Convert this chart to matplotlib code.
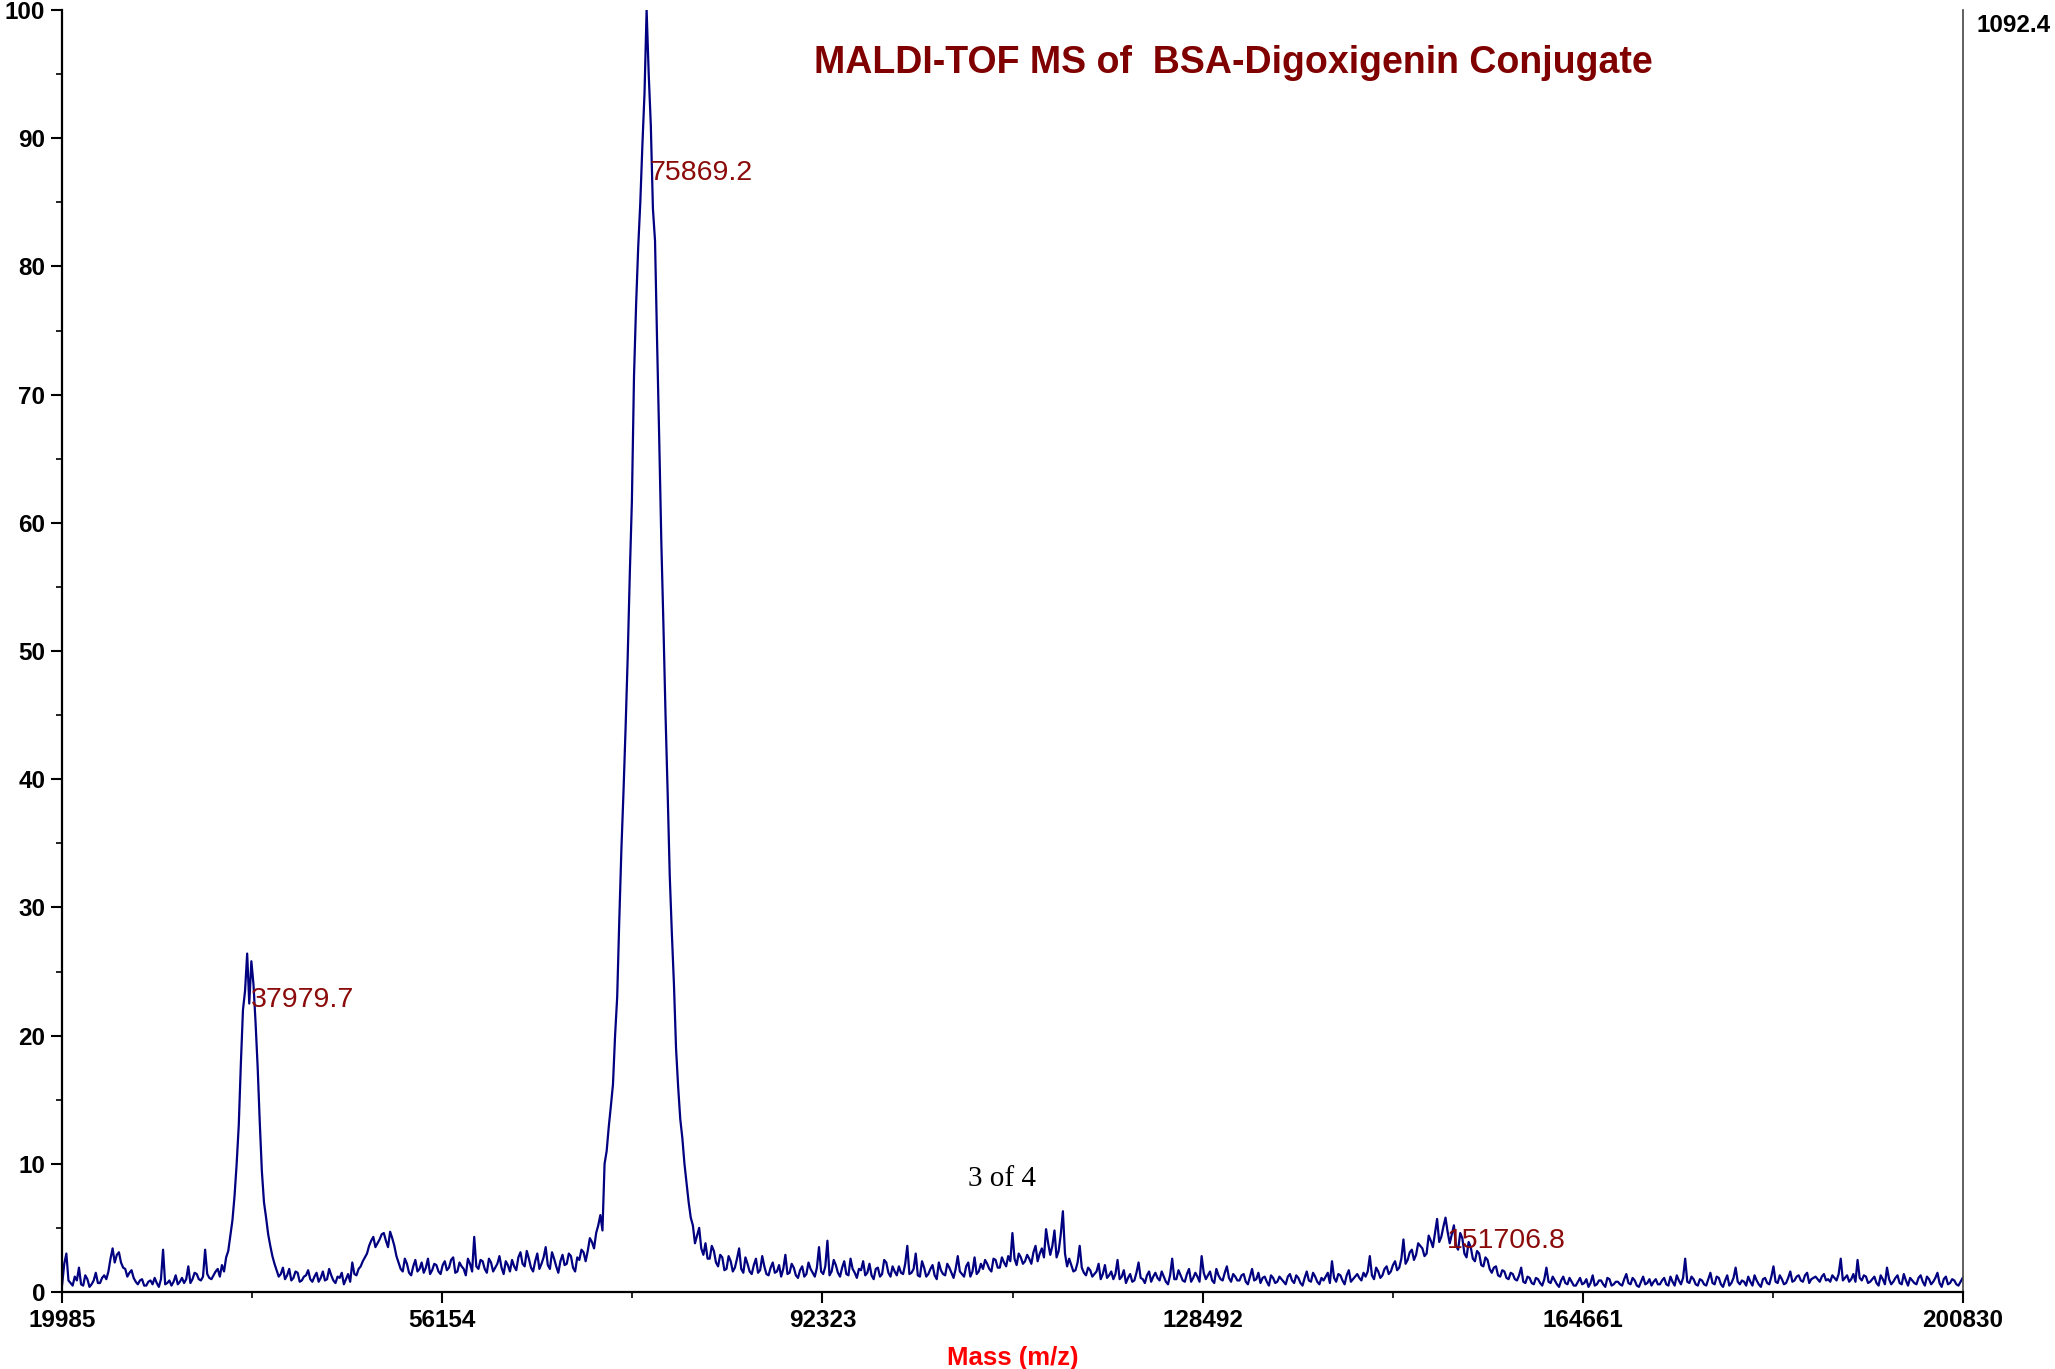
import numpy as np
import matplotlib
matplotlib.use("Agg")
import matplotlib.pyplot as plt
from matplotlib.ticker import FixedLocator, MultipleLocator

plt.rcParams['font.family'] = ['Liberation Sans', 'DejaVu Sans']

# spectrum: relative intensity every 400 Da from 20000 Da
intensity = [
    0.6, 3.0, 0.7, 1.2, 1.9, 0.5, 1.0, 0.6, 1.5, 0.7,        # 20000
    1.3, 1.6, 3.4, 2.9, 2.3, 1.8, 1.5, 1.1, 0.6, 1.0,        # 24000
    0.5, 0.9, 1.1, 0.4, 3.3, 0.7, 0.5, 1.3, 0.8, 0.7,        # 28000
    2.0, 1.0, 1.4, 0.9, 3.3, 1.1, 1.3, 1.8, 2.1, 2.7,        # 32000
    4.4, 7.5, 13.0, 22.0, 26.4, 25.8, 21.0, 13.2, 7.0, 4.5,  # 36000
    2.8, 1.7, 1.4, 1.0, 1.8, 1.1, 1.5, 0.9, 1.3, 1.0,        # 40000
    1.2, 0.8, 1.6, 1.0, 1.3, 0.7, 1.1, 0.6, 1.4, 2.3,        # 44000
    1.3, 2.0, 2.7, 3.6, 4.3, 3.8, 4.5, 4.0, 4.7, 3.6,        # 48000
    2.3, 1.6, 2.2, 1.3, 2.5, 1.8, 1.5, 2.6, 1.7, 2.1,        # 52000
    1.4, 2.4, 1.9, 2.7, 1.6, 2.0, 1.3, 2.2, 4.3, 1.8,        # 56000
    2.4, 1.5, 2.3, 1.9, 2.8, 1.4, 2.1, 2.5, 1.7, 3.1,        # 60000
    2.0, 2.6, 1.6, 3.0, 2.2, 3.5, 1.8, 2.6, 1.5, 2.9,        # 64000
    2.2, 2.8, 1.6, 2.5, 3.1, 3.2, 3.9, 4.6, 6.0, 10.0,       # 68000
    12.9, 16.2, 23.0, 34.5, 44.0, 56.0, 71.4, 81.5, 89.5, 100.0,  # 72000
    91.0, 82.0, 66.5, 52.0, 39.0, 28.0, 19.0, 13.5, 10.0, 7.0,    # 76000
    5.2, 4.4, 3.4, 3.8, 2.6, 3.2, 2.0, 2.7, 1.8, 2.4,        # 80000
    1.9, 3.4, 1.5, 2.2, 1.4, 2.6, 1.7, 2.0, 1.3, 2.3,        # 84000
    1.6, 1.2, 2.9, 1.5, 1.9, 1.1, 2.0, 1.4, 1.8, 1.2,        # 88000
    3.5, 1.4, 4.0, 1.6, 2.1, 1.2, 2.4, 1.3, 1.8, 1.1,        # 92000
    1.7, 1.3, 2.2, 1.0, 1.9, 1.4, 2.3, 1.2, 1.6, 2.0,        # 96000
    1.4, 3.6, 1.5, 3.0, 1.2, 1.9, 1.4, 2.1, 1.0, 1.7,        # 100000
    1.3, 1.9, 1.1, 2.8, 1.4, 2.0, 1.2, 2.7, 1.6, 1.8,        # 104000
    2.2, 1.6, 2.5, 1.9, 2.3, 2.8, 4.6, 2.1, 2.7, 2.4,        # 108000
    2.6, 3.1, 2.4, 3.4, 4.9, 2.9, 4.8, 3.2, 6.3, 2.0,        # 112000
    2.1, 1.7, 3.6, 1.5, 1.9, 1.2, 1.6, 1.0, 2.1, 1.3,        # 116000
    1.0, 2.5, 1.2, 0.7, 1.4, 0.9, 2.3, 1.0, 1.3, 0.8,        # 120000
    1.5, 0.9, 1.2, 0.6, 2.6, 1.0, 1.3, 0.8, 1.8, 1.1,        # 124000
    1.2, 2.8, 1.0, 1.6, 0.7, 1.3, 0.9, 2.0, 0.8, 1.2,        # 128000
    0.9, 1.4, 0.6, 1.8, 1.0, 0.7, 1.2, 0.5, 1.1, 0.8,        # 132000
    1.0, 0.6, 1.4, 0.7, 1.1, 0.5, 1.6, 0.8, 1.2, 0.6,        # 136000
    0.9, 1.5, 2.4, 0.8, 1.3, 0.6, 1.7, 1.0, 1.4, 0.9,        # 140000
    1.2, 2.8, 1.0, 1.6, 1.3, 2.0, 1.6, 2.4, 1.9, 4.1,        # 144000
    2.5, 3.3, 2.9, 3.6, 2.8, 4.4, 3.5, 5.7, 4.3, 5.8,        # 148000
    3.8, 5.2, 3.3, 4.2, 2.7, 3.5, 2.4, 3.0, 2.0, 2.5,        # 152000
    1.5, 2.0, 1.2, 1.6, 1.0, 1.4, 0.9, 1.9, 0.7, 1.1,        # 156000
    0.6, 1.0, 0.5, 1.9, 0.7, 0.9, 0.4, 1.2, 0.6, 0.8,        # 160000
    0.5, 1.1, 0.7, 0.4, 1.3, 0.6, 0.9, 0.4, 1.0, 0.6,        # 164000
    0.8, 0.5, 1.4, 0.6, 0.9, 0.4, 1.2, 0.7, 0.5, 1.0,        # 168000
    0.6, 1.1, 0.5, 0.8, 1.3, 0.6, 2.6, 0.7, 1.0, 0.5,        # 172000
    0.9, 0.5, 1.5, 0.6, 1.1, 0.4, 1.3, 0.7, 1.9, 0.6,        # 176000
    0.8, 1.2, 0.5, 0.9, 0.4, 1.1, 0.6, 2.0, 0.7, 1.0,        # 180000
    0.7, 1.6, 0.9, 1.3, 0.8, 1.5, 1.0, 1.2, 0.8, 1.4,        # 184000
    1.0, 1.3, 0.9, 2.6, 1.1, 0.8, 1.4, 2.5, 0.9, 1.2,        # 188000
    0.8, 1.2, 0.5, 1.0, 1.9, 0.6, 1.1, 0.7, 1.4, 0.5,        # 192000
    0.9, 0.6, 1.3, 0.5, 1.0, 0.8, 1.5, 0.4, 1.2, 0.7,        # 196000
    0.9, 0.5, 1.1,                                           # 200000
]

# readings half-way between, every 400 Da from 20200 Da
intensity_mid = [
    2.2, 0.9, 0.5, 0.9, 0.6, 1.3, 0.4, 0.9, 0.7, 1.1,        # 20200
    1.0, 2.6, 2.3, 3.1, 1.9, 1.2, 1.7, 0.8, 0.9, 0.5,        # 24200
    0.8, 0.6, 0.7, 1.0, 0.6, 0.9, 0.8, 0.6, 1.1, 1.0,        # 28200
    0.7, 1.5, 1.0, 1.2, 1.4, 1.0, 1.6, 1.2, 1.6, 3.2,        # 32200
    5.6, 10.0, 17.8, 23.5, 22.5, 24.0, 17.5, 9.4, 5.8, 3.6,  # 36200
    2.2, 1.2, 1.9, 1.3, 0.9, 1.6, 0.8, 1.2, 1.7, 0.8,        # 40200
    1.5, 1.1, 0.9, 1.8, 0.9, 1.2, 1.5, 1.0, 0.8, 1.4,        # 44200
    1.8, 2.4, 3.0, 4.0, 3.5, 4.1, 4.6, 3.5, 4.2, 2.8,        # 48200
    1.8, 2.6, 1.5, 2.0, 1.6, 2.3, 1.9, 1.4, 2.2, 1.6,        # 52200
    2.1, 1.7, 2.5, 1.5, 2.3, 1.8, 2.6, 1.6, 2.0, 2.5,        # 56200
    1.8, 2.6, 1.6, 2.2, 1.9, 2.4, 1.6, 2.0, 2.7, 2.2,        # 60200
    3.2, 1.9, 2.4, 1.8, 2.7, 2.1, 3.1, 2.0, 2.4, 2.1,        # 64200
    3.0, 1.9, 2.7, 3.3, 2.4, 4.2, 3.4, 5.2, 4.8, 11.0,       # 68200
    14.5, 20.0, 29.0, 39.0, 49.5, 61.7, 77.0, 85.0, 93.5, 95.0,  # 72200
    84.5, 74.0, 58.5, 45.0, 32.5, 24.0, 16.0, 12.0, 8.5, 5.8,    # 76200
    3.8, 5.0, 2.9, 2.6, 3.6, 2.3, 2.9, 1.7, 2.8, 1.6,        # 80200
    2.6, 1.8, 2.7, 1.6, 2.1, 1.5, 2.8, 1.4, 1.9, 1.5,        # 84200
    2.1, 1.8, 1.4, 2.2, 1.3, 1.7, 1.2, 2.3, 1.5, 1.9,        # 88200
    1.6, 2.0, 1.3, 2.5, 1.5, 1.9, 1.4, 2.6, 1.5, 1.8,        # 92200
    2.4, 1.5, 1.3, 1.8, 1.2, 2.5, 1.5, 2.0, 1.3, 1.5,        # 96200
    2.2, 1.4, 1.8, 1.3, 2.4, 1.2, 1.8, 1.3, 2.3, 1.4,        # 100200
    2.2, 1.5, 1.8, 1.6, 1.2, 2.3, 1.6, 1.4, 2.2, 2.5,        # 104200
    1.8, 2.6, 1.9, 2.7, 2.0, 2.4, 2.6, 3.0, 2.2, 2.9,        # 108200
    2.2, 3.6, 3.0, 2.7, 3.8, 3.6, 2.7, 4.5, 3.0, 2.6,        # 112200
    1.6, 2.3, 1.9, 1.3, 1.7, 1.4, 2.2, 1.4, 1.1, 1.6,        # 116200
    1.4, 1.0, 1.7, 1.1, 0.8, 1.5, 1.1, 0.7, 1.6, 1.2,        # 120200
    1.1, 1.6, 0.8, 1.3, 1.0, 1.7, 0.9, 1.4, 0.8, 1.5,        # 124200
    0.8, 1.5, 1.3, 0.9, 1.8, 1.0, 1.5, 1.1, 1.4, 0.9,        # 128200
    1.3, 0.8, 1.2, 0.9, 1.5, 1.1, 0.8, 1.3, 0.7, 1.2,        # 132200
    0.8, 1.2, 0.9, 1.3, 0.7, 1.1, 0.9, 1.5, 0.8, 1.1,        # 136200
    1.2, 0.7, 1.1, 1.4, 0.9, 1.3, 0.8, 1.2, 1.1, 1.5,        # 140200
    1.6, 1.3, 1.9, 1.1, 1.8, 1.4, 2.1, 1.7, 2.6, 2.2,        # 144200
    3.1, 2.5, 3.8, 3.4, 3.0, 4.0, 4.6, 3.9, 5.1, 4.7,        # 148200
    4.5, 3.6, 4.6, 3.0, 3.9, 2.6, 3.2, 2.1, 2.7, 1.8,        # 152200
    1.9, 1.3, 1.7, 1.1, 1.5, 1.0, 1.3, 0.8, 1.2, 0.7,        # 156200
    1.1, 0.7, 1.0, 0.8, 1.2, 0.6, 0.9, 0.7, 1.1, 0.5,        # 160200
    0.8, 0.6, 1.0, 0.7, 0.5, 0.9, 0.6, 1.1, 0.5, 0.8,        # 164200
    0.6, 1.0, 0.7, 1.1, 0.5, 0.8, 0.6, 1.0, 0.8, 0.6,        # 168200
    0.9, 0.6, 1.2, 0.5, 0.9, 1.1, 0.8, 1.2, 0.6, 1.0,        # 172200
    0.6, 1.0, 0.7, 1.2, 0.6, 0.9, 0.5, 1.1, 0.8, 0.9,        # 176200
    0.5, 0.8, 1.3, 0.6, 1.0, 0.7, 1.2, 0.8, 1.3, 0.6,        # 180200
    1.1, 0.8, 1.2, 0.9, 1.3, 0.7, 1.1, 1.0, 1.2, 0.9,        # 184200
    0.8, 1.1, 1.4, 0.9, 1.3, 1.0, 0.8, 1.1, 1.3, 0.7,        # 188200
    1.0, 0.7, 1.3, 0.6, 1.0, 0.8, 1.3, 0.6, 0.9, 1.1,        # 192200
    0.7, 1.1, 0.8, 1.2, 0.6, 1.1, 0.7, 1.0, 0.6, 1.0,        # 196200
    0.6, 0.8,                                                # 200200
]

x_ticks = [19985, 56154, 92323, 128492, 164661, 200830]
peak_mass = [37979.7, 75869.2, 151706.8]
peak_label_y = [22.8, 87.3, 4.0]
max_counts = "1092.4"

mass = np.concatenate([20000 + 400 * np.arange(len(intensity)),
                       20200 + 400 * np.arange(len(intensity_mid))])
signal = np.concatenate([intensity, intensity_mid])
order = np.argsort(mass)
mass, signal = mass[order], signal[order]

fig = plt.figure(figsize=(20.55, 13.69), dpi=100)
ax = fig.add_axes([62 / 2055, 1 - 1292 / 1369, 1901 / 2055, 1282 / 1369])

ax.plot(mass, signal, color='#000080', lw=1.6)

ax.set_xlim(x_ticks[0], x_ticks[-1])
ax.set_ylim(0, 100)

ax.xaxis.set_major_locator(FixedLocator(x_ticks))
mids = [(a + b) / 2 for a, b in zip(x_ticks[:-1], x_ticks[1:])]
ax.xaxis.set_minor_locator(FixedLocator(mids))
ax.yaxis.set_major_locator(MultipleLocator(10))
ax.yaxis.set_minor_locator(MultipleLocator(5))
ax.tick_params(which='major', length=8, width=1.5, labelsize=17.5, pad=4)
ax.tick_params(which='minor', length=4, width=1.2)
for lab in ax.get_xticklabels() + ax.get_yticklabels():
    lab.set_fontweight('bold')

ax.spines['top'].set_visible(False)
ax.spines['right'].set_color('#444444')
ax.spines['right'].set_linewidth(1.2)
for s in ['left', 'bottom']:
    ax.spines[s].set_linewidth(1.6)

ax.set_xlabel('Mass (m/z)', color='red', fontsize=18.5, fontweight='bold', labelpad=10)

for m, y in zip(peak_mass, peak_label_y):
    ax.text(m, y, f"{m:.1f}", color='#8b0a0a', fontsize=20.5, ha='left', va='center')

ax.text(109400, 8.8, '3 of 4', family=['Liberation Serif'], fontsize=21, ha='center', va='center')

fig.text(814 / 2055, 1 - 63 / 1369, 'MALDI-TOF MS of  BSA-Digoxigenin Conjugate',
         color='#800000', fontsize=27, fontweight='bold', ha='left', va='center')
fig.text(1977 / 2055, 1 - 25 / 1369, max_counts, fontsize=17.5, fontweight='bold',
         ha='left', va='center')

fig.savefig('out.png', dpi=100)
